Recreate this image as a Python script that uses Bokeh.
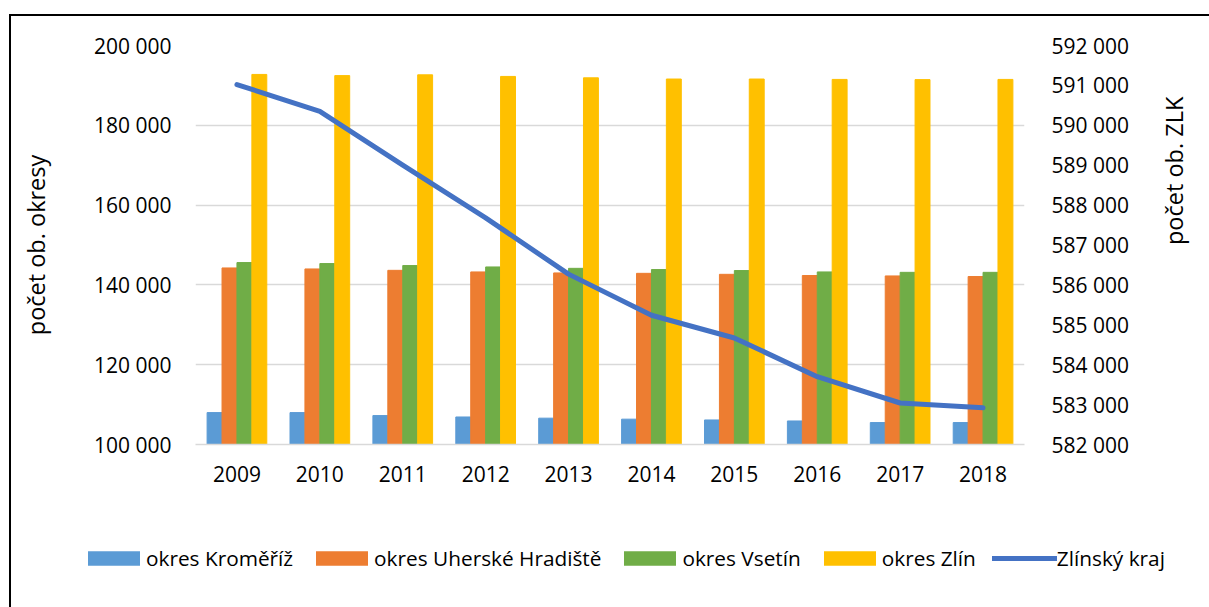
import math
from bokeh.plotting import figure
from bokeh.layouts import column
from bokeh.models import (Range1d, LinearAxis, FactorRange, ColumnDataSource, Legend, LegendItem,
                          CustomJSTickFormatter, SingleIntervalTicker)
from bokeh.transform import dodge
from bokeh.embed import file_html
from bokeh.resources import INLINE

# ---- data ----
years = ["2009", "2010", "2011", "2012", "2013", "2014", "2015", "2016", "2017", "2018"]
kromeriz = [108000, 108000, 107250, 106900, 106600, 106350, 106150, 105900, 105500, 105500]
uherske_hradiste = [144250, 144000, 143650, 143250, 143000, 142900, 142650, 142350, 142250, 142100]
vsetin = [145600, 145350, 144850, 144500, 144150, 143850, 143600, 143250, 143150, 143150]
zlin = [192750, 192450, 192650, 192250, 191900, 191600, 191600, 191500, 191450, 191500]
zlinsky_kraj = [591020, 590350, 589000, 587680, 586270, 585240, 584670, 583700, 583040, 582920]

series_names = ["okres Kroměříž", "okres Uherské Hradiště", "okres Vsetín", "okres Zlín"]
line_name = "Zlínský kraj"
left_title = "počet ob. okresy"
right_title = "počet ob. ZLK"

FONT = "Open Sans"
TXT = "#000000"
W = 1198

src = ColumnDataSource(dict(year=years, kromeriz=kromeriz, uh=uherske_hradiste,
                            vsetin=vsetin, zlin=zlin, zlk=zlinsky_kraj))

xr = FactorRange(*years)
p = figure(x_range=xr, y_range=Range1d(100000, 200000),
           width=W, height=488, output_backend="svg", toolbar_location=None,
           min_border_left=184, min_border_right=185, min_border_top=29, min_border_bottom=60)
p.outline_line_color = None
p.extra_y_ranges = {"zlk": Range1d(582000, 592000)}

cols = ["kromeriz", "uh", "vsetin", "zlin"]
colors = ["#5B9BD5", "#ED7D31", "#70AD47", "#FFC000"]
offsets = [-0.27, -0.09, 0.09, 0.27]
for c, col, off in zip(cols, colors, offsets):
    p.vbar(x=dodge("year", off, range=xr), top=c, bottom=100000, width=0.18,
           source=src, fill_color=col, line_color=col)

p.line(x="year", y="zlk", source=src, y_range_name="zlk", line_width=5,
       line_color="#4472C4", line_cap="round", line_join="round")

fmt = CustomJSTickFormatter(code='return Math.round(tick).toString().replace(/\\B(?=(\\d{3})+(?!\\d))/g, " ");')

def style_axis(ax):
    ax.axis_line_color = None
    ax.major_tick_line_color = None
    ax.minor_tick_line_color = None
    ax.major_label_text_font = FONT
    ax.major_label_text_font_size = "21px"
    ax.major_label_text_color = TXT
    ax.axis_label_text_font = FONT
    ax.axis_label_text_font_size = "23.5px"
    ax.axis_label_text_font_style = "normal"
    ax.axis_label_text_color = TXT

ya = p.yaxis[0]
ya.ticker = SingleIntervalTicker(interval=20000)
ya.formatter = fmt
style_axis(ya)
ya.major_label_standoff = 18
ya.axis_label = left_title
ya.axis_label_standoff = 39

ra = LinearAxis(y_range_name="zlk", ticker=SingleIntervalTicker(interval=1000), formatter=fmt)
style_axis(ra)
ra.major_label_standoff = 21
ra.axis_label = right_title
ra.axis_label_standoff = 42
try:
    ra.axis_label_orientation = math.pi / 2
except Exception:
    pass
p.add_layout(ra, "right")

xa = p.xaxis[0]
style_axis(xa)
xa.axis_line_color = "#d9d9d9"
xa.axis_line_width = 1.5
xa.major_label_standoff = 15

p.xgrid.grid_line_color = None
p.ygrid.grid_line_color = "#d9d9d9"
p.ygrid.grid_line_width = 1.5

# legend strip: the same series, drawn against a value range that keeps them out of view
lf = figure(x_range=FactorRange(*years), y_range=Range1d(1e7, 1e7 + 1), width=W, height=103,
            output_backend="svg", toolbar_location=None,
            x_axis_type=None, y_axis_type=None,
            min_border_left=0, min_border_right=0, min_border_top=0, min_border_bottom=0)
lf.outline_line_color = None
lf.grid.grid_line_color = None
for fig in (p, lf):
    try:
        fig.frame_align = False
    except Exception:
        pass
lrs = []
for c, col, off in zip(cols, colors, offsets):
    lrs.append(lf.vbar(x=dodge("year", off, range=lf.x_range), top=c, bottom=100000, width=0.18,
                       source=src, fill_color=col, line_color=None))
lrs.append(lf.line(x="year", y="zlk", source=src, line_width=5,
                   line_color="#4472C4", line_cap="round"))

items = [LegendItem(label=n, renderers=[r]) for n, r in zip(series_names + [line_name], lrs)]
legend = Legend(items=items, orientation="horizontal", location=(70, 35),
                glyph_width=65, glyph_height=18, label_standoff=0, spacing=16,
                padding=0, margin=0, border_line_alpha=0, background_fill_alpha=0,
                label_text_font=FONT, label_text_font_size="20.8px", label_text_color=TXT)
lf.add_layout(legend)

layout = column(p, lf, spacing=0,
                styles={"border-left": "2px solid #000", "border-top": "2px solid #000",
                        "margin-left": "9px", "margin-top": "14px"})

open("out.html", "w").write(file_html(layout, INLINE))
